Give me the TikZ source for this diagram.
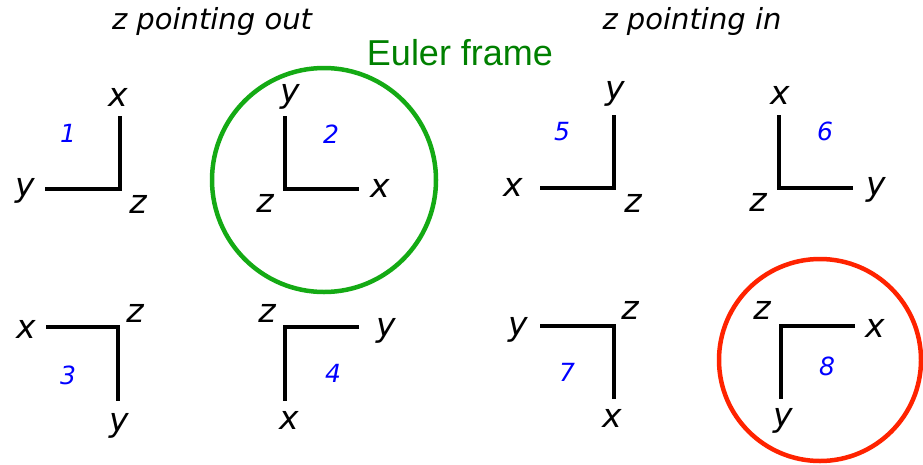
\documentclass[tikz,border=0pt]{standalone}
\usepackage{fontspec}
\setmainfont{DejaVu Sans}
\newfontfamily\arialfont{Liberation Sans}
\begin{document}
\begin{tikzpicture}[x=1pt,y=-1pt,
  axis/.style={line width=4.6pt,line join=miter,line cap=butt},
  lab/.style={font=\fontsize{33}{33}\selectfont\itshape,inner sep=0pt},
  num/.style={font=\fontsize{25}{25}\selectfont\itshape,text=blue,inner sep=0pt},
  head/.style={font=\fontsize{29}{29}\selectfont\itshape,inner sep=0pt},
  ring/.style={line width=4.5pt}]
\useasboundingbox (0,0) rectangle (923,464);
\definecolor{ringgreen}{RGB}{20,170,20}
\definecolor{textgreen}{RGB}{0,128,0}
\definecolor{ringred}{RGB}{255,35,0}
% headings
\node[head] (h1) at (212,21) {z pointing out};
\node[head] (h2) at (692,21) {z pointing in};
\node[font=\arialfont\fontsize{36}{36}\selectfont,text=textgreen,inner sep=0pt] (euler) at (460,53) {Euler frame};
% circles
\draw[ring,ringgreen] (324,180) circle (112);
\draw[ring,ringred] (820,360) circle (101);
% frame 1
\coordinate (c1) at (120,189);
\coordinate (a1) at (120,116);
\coordinate (b1) at (45,189);
\draw[axis] (a1) -- (c1) -- (b1);
\node[lab] (x1) at (118,97) {x};
\node[lab] (y1) at (25,191) {y};
\node[lab] (z1) at (138,204) {z};
\node[num] (n1) at (68,133) {1};
% frame 2
\coordinate (c2) at (285,189);
\coordinate (a2) at (285,116);
\coordinate (b2) at (359,189);
\draw[axis] (a2) -- (c2) -- (b2);
\node[lab] (y2) at (290,97) {y};
\node[lab] (x2) at (380,188) {x};
\node[lab] (z2) at (265,203) {z};
\node[num] (n2) at (331,134) {2};
% frame 5
\coordinate (c5) at (614,188);
\coordinate (a5) at (614,115);
\coordinate (b5) at (540,188);
\draw[axis] (a5) -- (c5) -- (b5);
\node[lab] (y5) at (615,94) {y};
\node[lab] (x5) at (513,187) {x};
\node[lab] (z5) at (633,203) {z};
\node[num] (n5) at (562,132) {5};
% frame 6
\coordinate (c6) at (779,188);
\coordinate (a6) at (779,115);
\coordinate (b6) at (853,188);
\draw[axis] (a6) -- (c6) -- (b6);
\node[lab] (x6) at (780,95) {x};
\node[lab] (y6) at (876,190) {y};
\node[lab] (z6) at (758,202) {z};
\node[num] (n6) at (825,131) {6};
% frame 3
\coordinate (c3) at (118,327);
\coordinate (a3) at (46,327);
\coordinate (b3) at (118,401);
\draw[axis] (a3) -- (c3) -- (b3);
\node[lab] (x3) at (26,329) {x};
\node[lab] (z3) at (135,313) {z};
\node[lab] (y3) at (119,426) {y};
\node[num] (n3) at (68,375) {3};
% frame 4
\coordinate (c4) at (285,327);
\coordinate (a4) at (359,327);
\coordinate (b4) at (285,401);
\draw[axis] (a4) -- (c4) -- (b4);
\node[lab] (z4) at (267,313) {z};
\node[lab] (y4) at (386,331) {y};
\node[lab] (x4) at (289,420) {x};
\node[num] (n4) at (333,373) {4};
% frame 7
\coordinate (c7) at (614,326);
\coordinate (a7) at (540,326);
\coordinate (b7) at (614,399);
\draw[axis] (a7) -- (c7) -- (b7);
\node[lab] (y7) at (518,330) {y};
\node[lab] (z7) at (630,310) {z};
\node[lab] (x7) at (612,418) {x};
\node[num] (n7) at (567,372) {7};
% frame 8
\coordinate (c8) at (781,326);
\coordinate (a8) at (855,326);
\coordinate (b8) at (781,399);
\draw[axis] (a8) -- (c8) -- (b8);
\node[lab] (z8) at (762,310) {z};
\node[lab] (x8) at (875,328) {x};
\node[lab] (y8) at (783,421) {y};
\node[num] (n8) at (827,366) {8};
\end{tikzpicture}
\end{document}
